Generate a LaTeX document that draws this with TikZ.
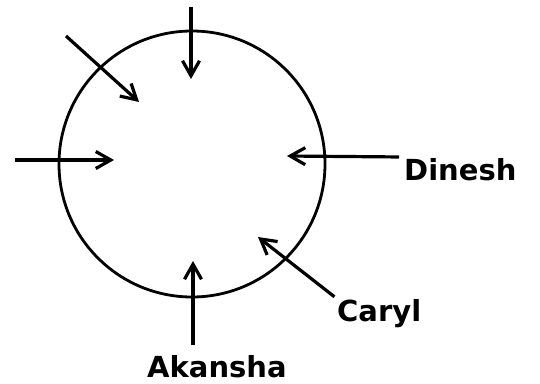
\documentclass[tikz,border=0pt]{standalone}
\usepackage{fontspec}
\newfontfamily\namefont{DejaVu Sans}
\usetikzlibrary{arrows.meta}
\begin{document}
\begin{tikzpicture}[x=1pt, y=-1pt,
    arr/.style={-{Straight Barb[length=15pt, width=17pt]}, line width=3.2pt},
    lbl/.style={font=\namefont\bfseries\fontsize{29}{34}\selectfont, inner sep=1pt}]
    \useasboundingbox (0,0) rectangle (540,383);
    \node[draw, circle, line width=2.8pt, minimum size=266pt, inner sep=0pt] (ring) at (192,164) {};

    \coordinate (topS) at (191,7);
    \coordinate (topE) at (191,79);
    \coordinate (diagS) at (66,36);
    \coordinate (diagE) at (139,102);
    \coordinate (leftS) at (15,160);
    \coordinate (leftE) at (114,160);
    \coordinate (dineshE) at (287,156);
    \coordinate (carylE) at (258,237);
    \coordinate (akanshaE) at (193,261);

    \node[lbl, anchor=north west] (dinesh) at (403,157) {Dinesh};
    \node[lbl, anchor=north west] (caryl) at (336,298) {Caryl};
    \node[lbl, anchor=north west] (akansha) at (146,354) {Akansha};

    \draw[arr] (topS) -- (topE);
    \draw[arr] (diagS) -- (diagE);
    \draw[arr] (leftS) -- (leftE);
    \draw[arr, shorten <=4pt] (dinesh.north west) -- (dineshE);
    \draw[arr, shorten <=2pt] (caryl.north west) -- (carylE);
    \draw[arr, shorten <=9pt] (akanshaE |- akansha.north) -- (akanshaE);
\end{tikzpicture}
\end{document}
